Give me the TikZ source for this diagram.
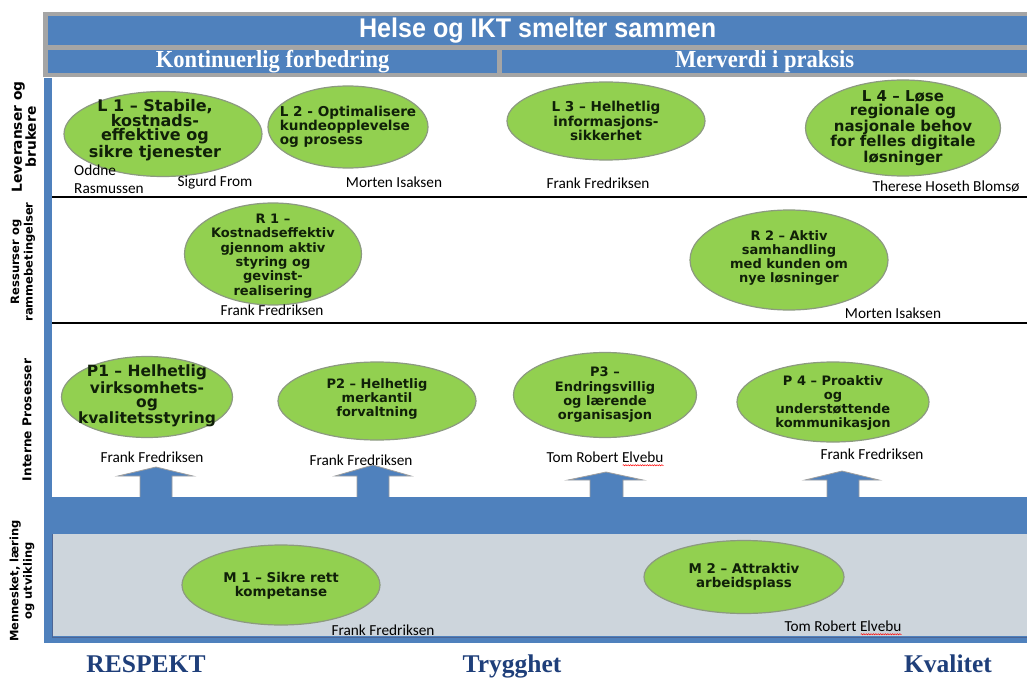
\documentclass[tikz,border=0pt]{standalone}
\usepackage{fontspec}
\setmainfont{DejaVu Sans}
\newfontfamily\namefont{Carlito}
\newfontfamily\hdrfont[FakeStretch=0.93]{Liberation Sans}
\newfontfamily\serfontn[FakeStretch=0.92]{Liberation Serif}
\newfontfamily\serfont{Liberation Serif}
\usetikzlibrary{shapes.geometric,decorations.pathmorphing}
\definecolor{iblue}{HTML}{4F81BD}
\definecolor{igreen}{HTML}{92D050}
\definecolor{iedge}{HTML}{8C9A80}
\definecolor{igray}{HTML}{CDD5DC}
\definecolor{hgray}{HTML}{A5A5A5}
\definecolor{navy}{HTML}{1F3F7A}
\definecolor{etxt}{HTML}{102008}
\newcommand\efs[1]{\fontsize{#1}{14.3}\selectfont}
\tikzset{
  ell/.style={ellipse, fill=igreen, draw=iedge, line width=1.2pt, inner sep=0pt},
  etext/.style={font=\bfseries\efs{13}, align=center, text=etxt, inner sep=0pt},
  nm/.style={font=\namefont\fontsize{15.3}{18}\selectfont, inner sep=0pt},
  rowlab/.style={rotate=90, font=\fontsize{11.5}{13.5}\selectfont\bfseries, align=center, inner sep=0pt},
  upar/.style={fill=iblue, draw=gray!75, line width=0.8pt},
  hbox/.style={fill=iblue, anchor=north west, inner sep=0pt, text=white},
  foot/.style={font=\serfont\bfseries\fontsize{25.5}{28}\selectfont, text=navy, inner sep=0pt, anchor=base},
  snk/.style={red, line width=0.5pt, decorate, decoration={snake, amplitude=0.6pt, segment length=2.4pt}},
}
\begin{document}
\begin{tikzpicture}[x=1pt,y=-1pt]
\useasboundingbox (0,0) rectangle (1027,679);
\fill[white] (0,0) rectangle (1027,679);

% header
\fill[hgray] (43,12) rectangle (1027,77);
\node[hbox, minimum width=979pt, minimum height=29pt, font=\hdrfont\bfseries\fontsize{27}{28}\selectfont] (H) at (48,16) {Helse og IKT smelter sammen};
\node[hbox, minimum width=449pt, minimum height=23pt, font=\serfontn\bfseries\fontsize{24.5}{25}\selectfont] (K) at (48,50) {Kontinuerlig forbedring};
\node[hbox, minimum width=525pt, minimum height=23pt, font=\serfontn\bfseries\fontsize{24.5}{25}\selectfont] (M) at (502,50) {Merverdi i praksis};

% frame
\fill[iblue] (44,78) rectangle (52,643);
\fill[igray] (52,534) rectangle (1027,637);
\fill[iblue] (44,636) rectangle (1027,643);
\draw[navy!80, line width=1pt] (52,637) -- (1027,637);
\draw[navy!80, line width=1pt] (52,525) -- (52,637);
\draw[black, line width=2.5pt] (52,197) -- (1027,197);
\draw[black, line width=2.5pt] (52,323) -- (1027,323);

% arrows
\path[upar] (140,499) -- (140,476) -- (118,476) -- (156,467) -- (193,476) -- (172,476) -- (172,499) -- cycle;
\path[upar] (357,499) -- (357,476) -- (335,476) -- (373,465) -- (411,476) -- (389,476) -- (389,499) -- cycle;
\path[upar] (590,499) -- (590,480) -- (568,480) -- (606,472) -- (643,480) -- (623,480) -- (623,499) -- cycle;
\path[upar] (827,499) -- (827,480) -- (805,480) -- (842,471) -- (879,480) -- (859,480) -- (859,499) -- cycle;
\fill[iblue] (44,497) rectangle (1027,534);

% row labels
\node[rowlab, font=\fontsize{13.8}{14}\selectfont\bfseries] (RL1) at (24,137) {Leveranser og\\brukere};
\node[rowlab] (RL2) at (23,262) {Ressurser og\\rammebetingelser};
\node[rowlab, font=\fontsize{12.2}{13.5}\selectfont\bfseries] (RL3) at (27,420) {Interne Prosesser};
\node[rowlab] (RL4) at (22,581) {Mennesket, læring\\og utvikling};

% Leveranser
\node[ell, minimum width=198pt, minimum height=85pt] (L1) at (163,134) {};
\node[etext, font=\bfseries\efs{16}] at ([xshift=-8pt,yshift=4pt]L1.center) {L 1 – Stabile,\\kostnads-\\effektive og\\sikre tjenester};
\node[ell, minimum width=160pt, minimum height=82pt] (L2) at (348,127) {};
\node[etext, align=left, font=\bfseries\efs{13.6}] at (L2.center) {L 2 - Optimalisere\\kundeopplevelse\\og prosess};
\node[ell, minimum width=198pt, minimum height=78pt] (L3) at (606,121) {};
\node[etext, font=\bfseries\efs{13.6}] at (L3.center) {L 3 – Helhetlig\\informasjons-\\sikkerhet};
\node[ell, minimum width=195pt, minimum height=96pt] (L4) at (903,128) {};
\node[etext, font=\bfseries\efs{15}] at (L4.center) {L 4 – Løse\\regionale og\\nasjonale behov\\for felles digitale\\løsninger};
\node[nm, anchor=west, align=left] (N1) at (74,179) {Oddne\\Rasmussen};
\node[nm] (N2) at (215,183) {Sigurd From};
\node[nm] (N3) at (394,182) {Morten Isaksen};
\node[nm] (N4) at (598,183) {Frank Fredriksen};
\node[nm] (N5) at (946,186) {Therese Hoseth Blomsø};

% Ressurser
\node[ell, minimum width=177pt, minimum height=102pt] (R1) at (273,254) {};
\node[etext, font=\bfseries\efs{13}] at ([yshift=-2pt]R1.center) {R 1 –\\Kostnadseffektiv\\gjennom aktiv\\styring og\\gevinst-\\realisering};
\node[ell, minimum width=198pt, minimum height=100pt] (R2) at (789,260) {};
\node[etext] at ([yshift=2pt]R2.center) {R 2 – Aktiv\\samhandling\\med kunden om\\nye løsninger};
\node[nm] (N6) at (272,310) {Frank Fredriksen};
\node[nm] (N7) at (893,313) {Morten Isaksen};

% Prosesser
\node[ell, minimum width=171pt, minimum height=81pt] (P1) at (147,397) {};
\node[etext, font=\bfseries\efs{15.5}] at ([yshift=1pt]P1.center) {P1 – Helhetlig\\virksomhets-\\og\\kvalitetsstyring};
\node[ell, minimum width=198pt, minimum height=78pt] (P2) at (377,401) {};
\node[etext] at ([yshift=2pt]P2.center) {P2 – Helhetlig\\merkantil\\forvaltning};
\node[ell, minimum width=183pt, minimum height=85pt] (P3) at (605,395) {};
\node[etext] at (P3.center) {P3 –\\Endringsvillig\\og lærende\\organisasjon};
\node[ell, minimum width=192pt, minimum height=80pt] (P4) at (833,402) {};
\node[etext] at ([yshift=-1pt]P4.center) {P 4 – Proaktiv\\og\\understøttende\\kommunikasjon};
\node[nm] (N8) at (152,457) {Frank Fredriksen};
\node[nm] (N9) at (361,460) {Frank Fredriksen};
\node[nm] (N10) at (605,457) {Tom Robert Elvebu};
\node[nm] (N11) at (872,454) {Frank Fredriksen};
\draw[snk] ([xshift=-41pt,yshift=-3pt]N10.base east) -- ([yshift=-3pt]N10.base east);

% Mennesket
\node[ell, minimum width=198pt, minimum height=80pt] (M1) at (281,585) {};
\node[etext, font=\bfseries\efs{13.4}] at ([yshift=-1pt]M1.center) {M 1 – Sikre rett\\kompetanse};
\node[ell, minimum width=200pt, minimum height=73pt] (M2) at (744,577) {};
\node[etext, font=\bfseries\efs{13.4}] at (M2.center) {M 2 – Attraktiv\\arbeidsplass};
\node[nm] (N12) at (383,630) {Frank Fredriksen};
\node[nm] (N13) at (843,626) {Tom Robert Elvebu};
\draw[snk] ([xshift=-41pt,yshift=-3pt]N13.base east) -- ([yshift=-3pt]N13.base east);

% footer
\node[foot] (F1) at (146,672) {RESPEKT};
\node[foot] (F2) at (512,672) {Trygghet};
\node[foot] (F3) at (948,672) {Kvalitet};
\end{tikzpicture}
\end{document}
